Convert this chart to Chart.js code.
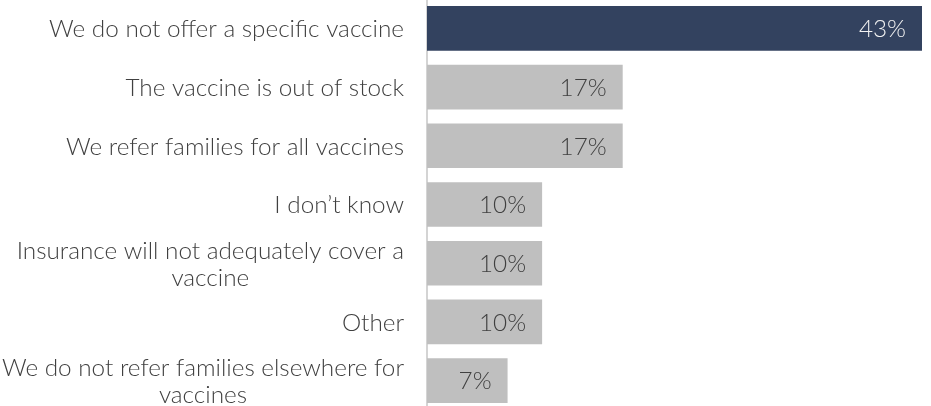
<!DOCTYPE html>
<html>
<head>
<meta charset="utf-8">
<script src="https://cdn.jsdelivr.net/npm/chart.js@4/dist/chart.umd.min.js"></script>
<style>
  html, body { margin: 0; padding: 0; background: #fff; overflow: hidden; width: 931px; height: 406px; }
  #wrap { position: absolute; left: 0; top: -1px; width: 931px; height: 411px; }
</style>
</head>
<body>
<div id="wrap"><canvas id="c"></canvas></div>
<script>
// Reasons given for referring families elsewhere for vaccines
const categories = [
  ['We do not offer a specific vaccine'],
  ['The vaccine is out of stock'],
  ['We refer families for all vaccines'],
  ['I don\u2019t know'],
  ['Insurance will not adequately cover a', 'vaccine'],
  ['Other'],
  ['We do not refer families elsewhere for', 'vaccines']
];
const shares = [43, 17, 17, 10, 10, 10, 7];   // percent of respondents
const valueLabels = ['43%', '17%', '17%', '10%', '10%', '10%', '7%'];

const NAVY = '#33425F';
const GREY = '#BFBFBF';
const TEXT = '#404040';
const FONT = '300 24.3px "Lato Light", Lato, "Open Sans", sans-serif';

const barColors = shares.map((v, i) => i === 0 ? NAVY : GREY);
const valueColors = shares.map((v, i) => i === 0 ? '#F2F2F2' : TEXT);

// Category names: block right-aligned against the axis, wrapped lines centred on each other
const categoryLabels = {
  id: 'categoryLabels',
  afterDraw(chart) {
    const ctx = chart.ctx;
    const y = chart.scales.y;
    const right = chart.chartArea.left - 23;
    const lineH = 27;
    ctx.save();
    ctx.font = FONT;
    ctx.fillStyle = TEXT;
    ctx.textAlign = 'center';
    ctx.textBaseline = 'middle';
    categories.forEach((lines, i) => {
      const cy = y.getPixelForValue(i) + 1;
      const w = Math.max(...lines.map(l => ctx.measureText(l).width));
      const cx = right - w / 2;
      const top = cy - (lines.length - 1) * lineH / 2;
      lines.forEach((l, k) => ctx.fillText(l, cx, top + k * lineH));
    });
    ctx.restore();
  }
};

// Percentages written inside the end of each bar
const valueTags = {
  id: 'valueTags',
  afterDatasetsDraw(chart) {
    const ctx = chart.ctx;
    const meta = chart.getDatasetMeta(0);
    ctx.save();
    ctx.font = FONT;
    ctx.textAlign = 'right';
    ctx.textBaseline = 'middle';
    meta.data.forEach((bar, i) => {
      ctx.fillStyle = valueColors[i];
      ctx.fillText(valueLabels[i], bar.x - 16, bar.y + 1);
    });
    ctx.restore();
  }
};

new Chart(document.getElementById('c'), {
  type: 'bar',
  data: {
    labels: categories,
    datasets: [{
      data: shares,
      backgroundColor: barColors,
      borderWidth: 0,
      barPercentage: 0.76,
      categoryPercentage: 1
    }]
  },
  options: {
    indexAxis: 'y',
    responsive: true,
    maintainAspectRatio: false,
    animation: false,
    layout: { padding: { left: 0, right: 9, top: 0, bottom: 0 } },
    plugins: { legend: { display: false }, tooltip: { enabled: false } },
    scales: {
      x: { display: false, min: 0, max: 43 },
      y: {
        grid: { display: false, drawTicks: false },
        border: { display: true, color: '#D4D4D4', width: 2 },
        ticks: { display: false },
        afterFit(scale) { scale.width = 427; }
      }
    }
  },
  plugins: [categoryLabels, valueTags]
});
</script>
</body>
</html>
